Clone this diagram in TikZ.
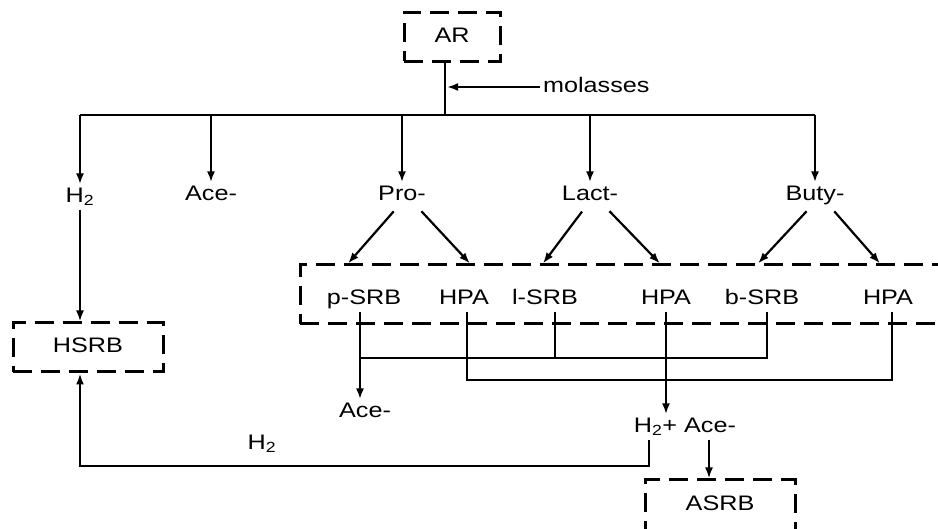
\documentclass[tikz,border=0pt]{standalone}
\usepackage{fontspec}
\setmainfont{Liberation Sans}[FakeStretch=1.2]
\usetikzlibrary{arrows.meta,calc}

\begin{document}
\begin{tikzpicture}[x=1pt, y=-1pt, line width=2.2pt,
  font=\fontsize{21pt}{25pt}\selectfont,
  lbl/.style={inner sep=2pt, text height=15pt, text depth=4pt},
  dbox/.style={draw, dash pattern=on 19pt off 9pt, line width=3pt},
  arr/.style={-{Latex[length=11pt,width=8pt]}}]
\useasboundingbox (0,0) rectangle (938,529);
\clip (0,0) rectangle (938,529);

% --- reactor and feed ---
\node[dbox, lbl, minimum width=96pt, minimum height=49pt] (ar) at (452,37) {AR};
\coordinate (bus) at (445,115);
\draw (ar.south -| bus) -- (bus);
\node[lbl, anchor=west] (mol) at (540,87) {molasses};
\draw[arr, shorten >=2pt] (mol.west) -- (mol.west -| bus);

% --- products of the AR ---
\node[lbl] (h2a) at (80,197) {H\textsubscript{2}};
\node[lbl] (acea) at (211,195) {Ace-};
\node[lbl] (pro) at (402,195) {Pro-};
\node[lbl] (lact) at (590,195) {Lact-};
\node[lbl] (buty) at (815,195) {Buty-};
\draw (h2a |- bus) -- (buty |- bus);
\foreach \n in {h2a,acea,pro,lact,buty}
  \draw[arr] (\n |- bus) -- (\n.north);

% --- SRB / HPA group ---
\node[dbox, minimum width=660pt, minimum height=59pt] (grp) at (630,294.5) {};
\node[lbl] (psrb) at (364,299) {p-SRB};
\node[lbl] (hpa1) at (464,299) {HPA};
\node[lbl] (lsrb) at (545,299) {l-SRB};
\node[lbl] (hpa2) at (666,299) {HPA};
\node[lbl] (bsrb) at (762,299) {b-SRB};
\node[lbl] (hpa3) at (888,299) {HPA};

\foreach \p/\l/\r/\dl/\dr in {pro/psrb/hpa1/-16/6, lact/lsrb/hpa2/-2/-6, buty/bsrb/hpa3/-4/-8} {
  \draw[arr, shorten <=5pt] ([xshift=-5pt]\p.south) -- ($(\l.north |- grp.north)+(\dl,0)$);
  \draw[arr, shorten <=5pt] ([xshift=16pt]\p.south) -- ($(\r.north |- grp.north)+(\dr,0)$);
}

% --- collecting lines ---
\coordinate (srbbus) at (0,358);
\coordinate (hpabus) at (0,380);
\coordinate (ret) at (0,466);
\node[lbl] (aceb) at (365,412) {Ace-};
\node[lbl] (hace) at (685,427) {H\textsubscript{2}+ Ace-};
\node[lbl] (h2b) at (262,444) {H\textsubscript{2}};

\draw[arr] ([xshift=-4pt]psrb.south) -- ([xshift=-4pt]psrb.south |- aceb.north);
\draw ([xshift=-4pt]psrb.south |- srbbus) -| ([xshift=5pt]bsrb.south);
\draw ([xshift=10pt]lsrb.south) -- ([xshift=10pt]lsrb.south |- srbbus);
\draw ([xshift=3pt]hpa1.south) |- ([xshift=4pt]hpa3.south |- hpabus) -- ([xshift=4pt]hpa3.south);
\draw[arr] (hpa2.south) -- (hpa2.south |- hace.north);

% --- HSRB and ASRB ---
\node[dbox, lbl, minimum width=150pt, minimum height=49pt] (hsrb) at (88,347.5) {HSRB};
\node[dbox, lbl, minimum width=150pt, minimum height=51pt] (asrb) at (720,505.5) {ASRB};
\draw[arr] (h2a.south) -- (h2a.south |- hsrb.north);
\draw[arr] ([xshift=-36pt]hace.south) |- ([xshift=-8pt]hsrb.south |- ret) -- ([xshift=-8pt]hsrb.south);
\draw[arr] ([xshift=24pt]hace.south) -- ([xshift=24pt]hace.south |- asrb.north);
\end{tikzpicture}
\end{document}
